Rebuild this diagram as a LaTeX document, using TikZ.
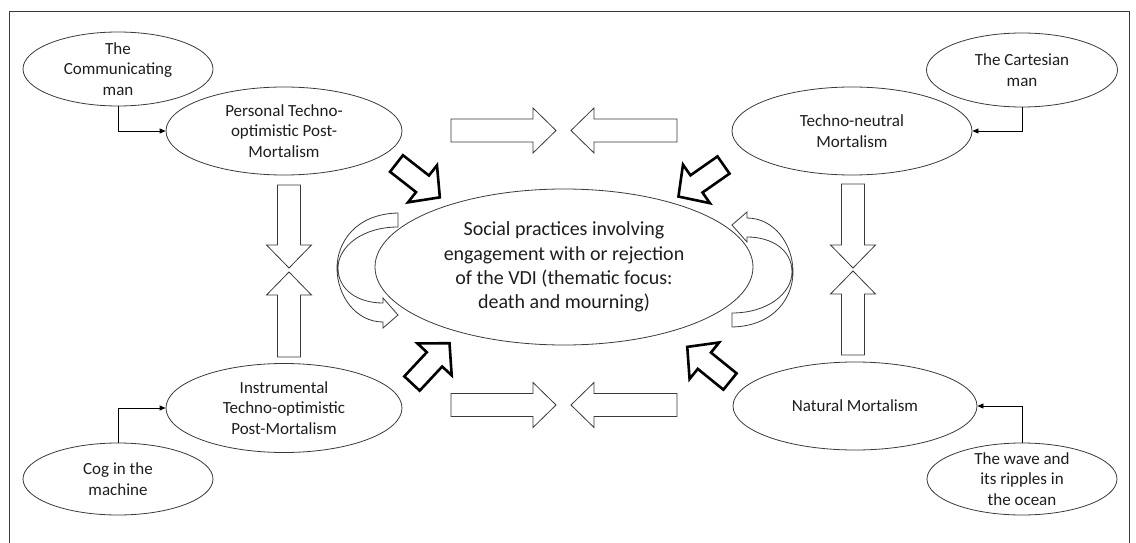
\documentclass[tikz,border=0pt]{standalone}
\usepackage{fontspec}
\setmainfont{Carlito}
\usetikzlibrary{shapes.geometric,arrows.meta}

\definecolor{inkline}{HTML}{3A3A3A}
\definecolor{inktext}{HTML}{1E1E1E}

\tikzset{
  oval/.style={draw=inkline, line width=0.8pt, ellipse, inner xsep=0pt, inner ysep=-20pt,
               align=center, text=inktext},
  smalltext/.style={font=\fontsize{17}{20.8}\selectfont},
  maintext/.style={font=\fontsize{20}{24.4}\selectfont},
  feed/.style={draw=black, line width=0.8pt, -{Triangle[length=6pt,width=5pt]}},
  thinblock/.style={draw=inkline, line width=0.8pt, fill=white, line join=miter},
  thickblock/.style={draw=black, line width=2.6pt, fill=white, line join=miter},
  pics/flatarrow/.style={code={
    \draw[thinblock] (0,-11.5) -- ({#1-23},-11.5) -- ({#1-23},-22.5) -- (#1,0)
      -- ({#1-23},22.5) -- ({#1-23},11.5) -- (0,11.5) -- cycle;}},
  pics/boldarrow/.style={code={
    \draw[thickblock] (0,-10.5) -- ({#1-22},-10.5) -- ({#1-22},-23.5) -- (#1,0)
      -- ({#1-22},23.5) -- ({#1-22},10.5) -- (0,10.5) -- cycle;}}
}

\begin{document}
\begin{tikzpicture}[x=1pt,y=-1pt]
\useasboundingbox (0,0) rectangle (1136,543);

% outer frame (open at the bottom)
\draw[draw=inkline, line width=0.9pt] (9,543) -- (9,11) -- (1129,11) -- (1129,543);

% central ellipse
\node[oval, maintext, minimum width=378pt, minimum height=156pt] (core) at (564,267)
  {Social practices involving\\engagement with or rejection\\of the VDI (thematic focus:\\death and mourning)};

% four positions
\node[oval, smalltext, minimum width=236pt, minimum height=88pt] (pers) at (284,131)
  {Personal Techno-\\optimistic Post-\\Mortalism};
\node[oval, smalltext, minimum width=240pt, minimum height=88pt] (neut) at (852,131)
  {Techno-neutral\\Mortalism};
\node[oval, smalltext, minimum width=236pt, minimum height=89pt] (inst) at (284,408)
  {Instrumental\\Techno-optimistic\\Post-Mortalism};
\node[oval, smalltext, minimum width=244pt, minimum height=88pt] (natu) at (855,406)
  {Natural Mortalism};

% images of man
\node[oval, smalltext, minimum width=190pt, minimum height=74pt] (comm) at (118,69)
  {The\\Communicating\\man};
\node[oval, smalltext, minimum width=191pt, minimum height=74pt] (cart) at (1022,70)
  {The Cartesian\\man};
\node[oval, smalltext, minimum width=190pt, minimum height=72pt] (cog) at (118,479)
  {Cog in the\\machine};
\node[oval, smalltext, minimum width=190pt, minimum height=72pt] (wave) at (1022,479)
  {The wave and\\its ripples in\\the ocean};

% feeding connectors
\draw[feed] (comm.south) |- (pers.west);
\draw[feed] (cart.south) |- (neut.east);
\draw[feed] (cog.north) |- (inst.west);
\draw[feed] (wave.north) |- (natu.east);

% horizontal block arrows
\pic at (451,130.5) {flatarrow=105};
\pic[rotate=180] at (677,130.5) {flatarrow=106};
\pic at (451,405) {flatarrow=105};
\pic[rotate=180] at (677,405) {flatarrow=106};

% vertical block arrows
\pic[rotate=-90] at (289,185) {flatarrow=83};
\pic[rotate=90] at (289,357) {flatarrow=85};
\pic[rotate=-90] at (853,184) {flatarrow=84};
\pic[rotate=90] at (853,355) {flatarrow=84};

% bold diagonal arrows towards the centre
\pic[rotate=-38] at (396.5,163.5) {boldarrow=55};
\pic[rotate=-145] at (723.5,165) {boldarrow=55};
\pic[rotate=47] at (412,383.5) {boldarrow=55};
\pic[rotate=141] at (730,381.5) {boldarrow=55};

% curved feedback arrows around the centre
\begin{scope}
  \draw[thinblock]
    (398,213) .. controls (355,214) and (337,243) .. (337,268)
    .. controls (337,296) and (356,322) .. (383,322)
    -- (383,328) -- (398,315) -- (383,298) -- (383,303)
    .. controls (358,303) and (338,290) .. (338,268)
    .. controls (338,247) and (362,227) .. (398,227) -- cycle;
\end{scope}
\begin{scope}[rotate around={180:(565,270)}]
  \draw[thinblock]
    (398,213) .. controls (355,214) and (337,243) .. (337,268)
    .. controls (337,296) and (356,322) .. (383,322)
    -- (383,328) -- (398,315) -- (383,298) -- (383,303)
    .. controls (358,303) and (338,290) .. (338,268)
    .. controls (338,247) and (362,227) .. (398,227) -- cycle;
\end{scope}
\end{tikzpicture}
\end{document}
